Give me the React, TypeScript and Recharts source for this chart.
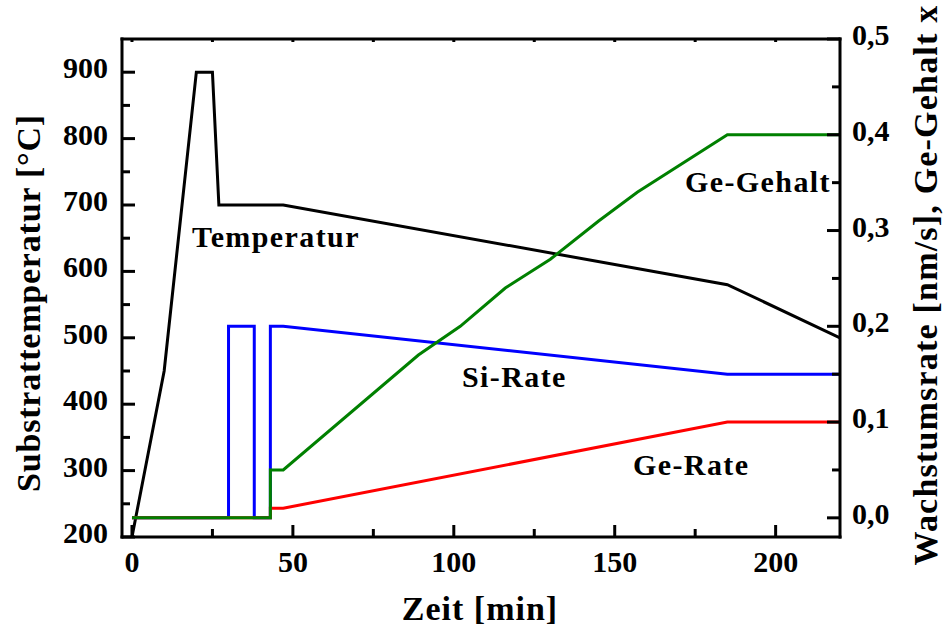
import { LineChart, Line, XAxis, YAxis } from 'recharts'

// Zeit in Minuten, Werte je Kurve (Knickpunkte des Prozessablaufs)
const tempTime = [0, 10, 20, 25, 27, 47, 185, 220]
const tempValue = [200, 450, 900, 900, 700, 700, 580, 500]

const siTime = [0, 30, 30, 38, 38, 43, 43, 47, 185, 220]
const siValue = [0, 0, 0.2, 0.2, 0, 0, 0.2, 0.2, 0.15, 0.15]

const geRateTime = [0, 43, 43, 47, 185, 220]
const geRateValue = [0, 0, 0.01, 0.01, 0.1, 0.1]

const geContentTime = [0, 43, 43, 47, 89, 102, 116, 130, 145, 157, 185, 220]
const geContentValue = [0, 0, 0.05, 0.05, 0.17, 0.2, 0.24, 0.27, 0.31, 0.34, 0.4, 0.4]

const timeTicks = [0, 25, 50, 75, 100, 125, 150, 175, 200]
const tempTicks = [200, 250, 300, 350, 400, 450, 500, 550, 600, 650, 700, 750, 800, 850, 900]
const rateTicks = [0, 0.05, 0.1, 0.15, 0.2, 0.25, 0.3, 0.35, 0.4, 0.45, 0.5]

const zip = (t: number[], v: number[]) => t.map((x, i) => ({ t: x, v: v[i] }))

const tempData = zip(tempTime, tempValue)
const siData = zip(siTime, siValue)
const geRateData = zip(geRateTime, geRateValue)
const geContentData = zip(geContentTime, geContentValue)

const FONT = "'Liberation Serif', 'Times New Roman', serif"
const axisLine = { stroke: '#000', strokeWidth: 3, strokeLinecap: 'square' as const }

function LeftTick({ x, y, payload }: any) {
  const major = payload.value % 100 === 0
  return (
    <g>
      <line x1={x} x2={x + (major ? 13 : 8)} y1={y} y2={y} stroke="#000" strokeWidth={3} />
      {major && (
        <text x={x - 14} y={y + 6} textAnchor="end" fontFamily={FONT} fontWeight="bold" fontSize={30} fill="#000">
          {payload.value}
        </text>
      )}
    </g>
  )
}

function RightTick({ x, y, payload }: any) {
  const major = Math.round(payload.value * 100) % 10 === 0
  return (
    <g>
      <line x1={x - (major ? 13 : 8)} x2={x} y1={y} y2={y} stroke="#000" strokeWidth={3} />
      {major && (
        <text x={x + 12} y={y + 6} textAnchor="start" fontFamily={FONT} fontWeight="bold" fontSize={30} fill="#000">
          {payload.value.toFixed(1).replace('.', ',')}
        </text>
      )}
    </g>
  )
}

function BottomTick({ x, y, payload }: any) {
  const major = payload.value % 50 === 0
  return (
    <g>
      <line x1={x} x2={x} y1={y} y2={y - (major ? 12 : 8)} stroke="#000" strokeWidth={3} />
      {major && (
        <text x={x} y={y + 35} textAnchor="middle" fontFamily={FONT} fontWeight="bold" fontSize={30} fill="#000">
          {payload.value}
        </text>
      )}
    </g>
  )
}

function TopTick({ x, y }: any) {
  return <line x1={x} x2={x} y1={y} y2={y + 3} stroke="#000" strokeWidth={3} />
}

const labelStyle = { fontFamily: FONT, fontWeight: 'bold' as const, fill: '#000' }

export default function App() {
  return (
    <div style={{ position: 'absolute', left: 0, top: 0, width: 944, height: 630, background: '#fff' }}>
      <LineChart width={944} height={630} margin={{ top: 29, right: 44, bottom: 53, left: 62 }}>
        <XAxis
          xAxisId="b" dataKey="t" type="number" domain={[-3.1, 220]} allowDataOverflow
          ticks={timeTicks} interval={0} tickSize={0} tickMargin={0} tickLine={false}
          axisLine={axisLine} tick={BottomTick} height={40}
        />
        <XAxis
          xAxisId="top" orientation="top" dataKey="t" type="number" domain={[-3.1, 220]} allowDataOverflow
          ticks={timeTicks} interval={0} tickSize={0} tickMargin={0} tickLine={false}
          axisLine={axisLine} tick={TopTick} height={10}
        />
        <YAxis
          yAxisId="temp" type="number" domain={[200, 950]} allowDataOverflow
          ticks={tempTicks} interval={0} tickSize={0} tickMargin={0} tickLine={false}
          axisLine={axisLine} tick={LeftTick} width={60}
        />
        <YAxis
          yAxisId="rate" orientation="right" type="number" domain={[-0.02, 0.5]} allowDataOverflow
          ticks={rateTicks} interval={0} tickSize={0} tickMargin={0} tickLine={false}
          axisLine={axisLine} tick={RightTick} width={60}
        />
        <Line data={tempData} xAxisId="b" yAxisId="temp" dataKey="v" type="linear" stroke="#000"
          strokeWidth={3} dot={false} isAnimationActive={false} />
        <Line data={siData} xAxisId="b" yAxisId="rate" dataKey="v" type="linear" stroke="#0000ff"
          strokeWidth={3} dot={false} isAnimationActive={false} />
        <Line data={geRateData} xAxisId="b" yAxisId="rate" dataKey="v" type="linear" stroke="#ff0000"
          strokeWidth={3} dot={false} isAnimationActive={false} />
        <Line data={geContentData} xAxisId="b" yAxisId="rate" dataKey="v" type="linear" stroke="#008000"
          strokeWidth={3} dot={false} isAnimationActive={false} />
      </LineChart>
      <svg width={944} height={630} style={{ position: 'absolute', left: 0, top: 0, pointerEvents: 'none' }}>
        <text x={192} y={247} fontSize={30} letterSpacing={1.4} {...labelStyle}>Temperatur</text>
        <text x={462} y={387} fontSize={30} letterSpacing={1.4} {...labelStyle}>Si-Rate</text>
        <text x={633} y={475} fontSize={30} letterSpacing={1.4} {...labelStyle}>Ge-Rate</text>
        <text x={685} y={192} fontSize={30} letterSpacing={1.4} {...labelStyle}>Ge-Gehalt</text>
        <text x={480} y={620} fontSize={34} letterSpacing={1} textAnchor="middle" {...labelStyle}>Zeit [min]</text>
        <text transform="translate(40 303) rotate(-90)" fontSize={34} letterSpacing={0.8} textAnchor="middle" {...labelStyle}>
          Substrattemperatur [°C]
        </text>
        <text transform="translate(937 285) rotate(-90)" fontSize={34} letterSpacing={1.2} textAnchor="middle" {...labelStyle}>
          Wachstumsrate [nm/s], Ge-Gehalt x
        </text>
      </svg>
    </div>
  )
}
